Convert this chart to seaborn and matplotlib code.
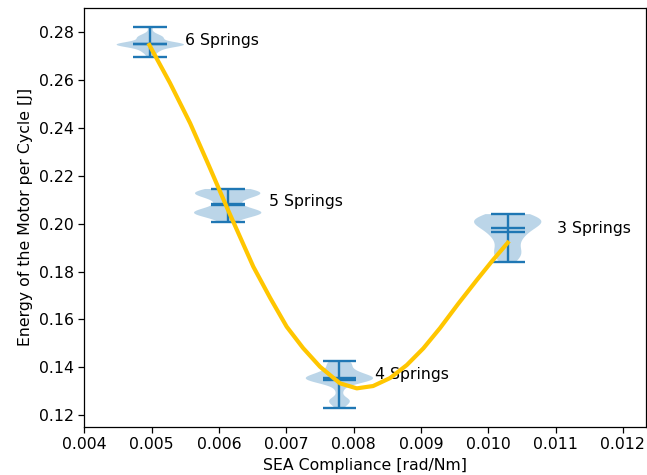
import numpy as np
import matplotlib
matplotlib.use("Agg")
import matplotlib.pyplot as plt
import seaborn as sns
from matplotlib.ticker import MultipleLocator

# ---- data ----
compliance = [0.00498, 0.00613, 0.00779, 0.01029]
labels = ["6 Springs", "5 Springs", "4 Springs", "3 Springs"]
label_x = [0.005496, 0.006744, 0.008319, 0.011028]
label_y = [0.2747, 0.2074, 0.1349, 0.1960]

energy_6 = [0.2695, 0.2712, 0.2720, 0.2726, 0.2732, 0.2738, 0.2744, 0.2746,
            0.2747, 0.2748, 0.2748, 0.2749, 0.2749, 0.2750, 0.2750, 0.2751,
            0.2752, 0.2753, 0.2756, 0.2772, 0.2776, 0.2778, 0.2780, 0.2784,
            0.2795, 0.2822]
energy_5 = [0.2006, 0.2030, 0.2039, 0.2043, 0.2045, 0.2047, 0.2049, 0.2052,
            0.2057, 0.2080, 0.2095, 0.2115, 0.2121, 0.2125, 0.2127, 0.2129,
            0.2132, 0.2137, 0.2145]
energy_4 = [0.1231, 0.1248, 0.1258, 0.1262, 0.1267, 0.1300, 0.1325, 0.1332,
            0.1337, 0.1341, 0.1344, 0.1347, 0.1349, 0.1351, 0.1353, 0.1355,
            0.1357, 0.1359, 0.1362, 0.1365, 0.1369, 0.1373, 0.1378, 0.1383,
            0.1390, 0.1397, 0.1410, 0.1415, 0.1420, 0.1427]
energy_3 = [0.1839, 0.1860, 0.1870, 0.1877, 0.1885, 0.1905, 0.1925, 0.1940,
            0.1950, 0.1960, 0.1970, 0.1980, 0.1983, 0.1995, 0.2001, 0.2005,
            0.2009, 0.2012, 0.2015, 0.2017, 0.2020, 0.2023, 0.2027, 0.2032,
            0.2040]
bandwidth = [0.4, 0.4, 0.28, 0.45]

fit_x = [0.004966, 0.005273, 0.005573, 0.005853, 0.006135, 0.006511, 0.006762,
         0.007007, 0.007250, 0.007502, 0.007799, 0.008048, 0.008290, 0.008543,
         0.008791, 0.009037, 0.009285, 0.009552, 0.009831, 0.010058, 0.010291]
fit_y = [0.27469, 0.25880, 0.24196, 0.22411, 0.20572, 0.18201, 0.16892,
         0.15692, 0.14802, 0.14020, 0.13326, 0.13117, 0.13214, 0.13548,
         0.14091, 0.14790, 0.15638, 0.16642, 0.17645, 0.18439, 0.19204]

# ---- style ----
plt.rcParams.update({
    "font.size": 11.3,
    "lines.linewidth": 1.7,
    "axes.linewidth": 0.9,
    "xtick.major.width": 0.9,
    "ytick.major.width": 0.9,
    "xtick.major.size": 4,
    "ytick.major.size": 4,
})

fig = plt.figure(figsize=(6.47, 4.75), dpi=100)
ax = fig.add_axes([0.1303, 0.1017, 0.8677, 0.8815])

datasets = [energy_6, energy_5, energy_4, energy_3]
for pos, data, bw in zip(compliance, datasets, bandwidth):
    ax.set_prop_cycle(None)  # keep every violin in the first default colour
    ax.violinplot([data], positions=[pos], widths=0.001, bw_method=bw,
                  showmeans=True, showmedians=True, showextrema=True)

sns.lineplot(x=fit_x, y=fit_y, color="#FFC600", linewidth=3, ax=ax,
             zorder=5)

for lx, ly, lab in zip(label_x, label_y, labels):
    ax.text(lx, ly, lab)

ax.set_xlim(0.004, 0.01234)
ax.xaxis.set_major_locator(MultipleLocator(0.001))
ax.yaxis.set_major_locator(MultipleLocator(0.02))
ax.set_xlabel("SEA Compliance [rad/Nm]")
ax.set_ylabel("Energy of the Motor per Cycle [J]")

fig.savefig("out.png", dpi=100)
